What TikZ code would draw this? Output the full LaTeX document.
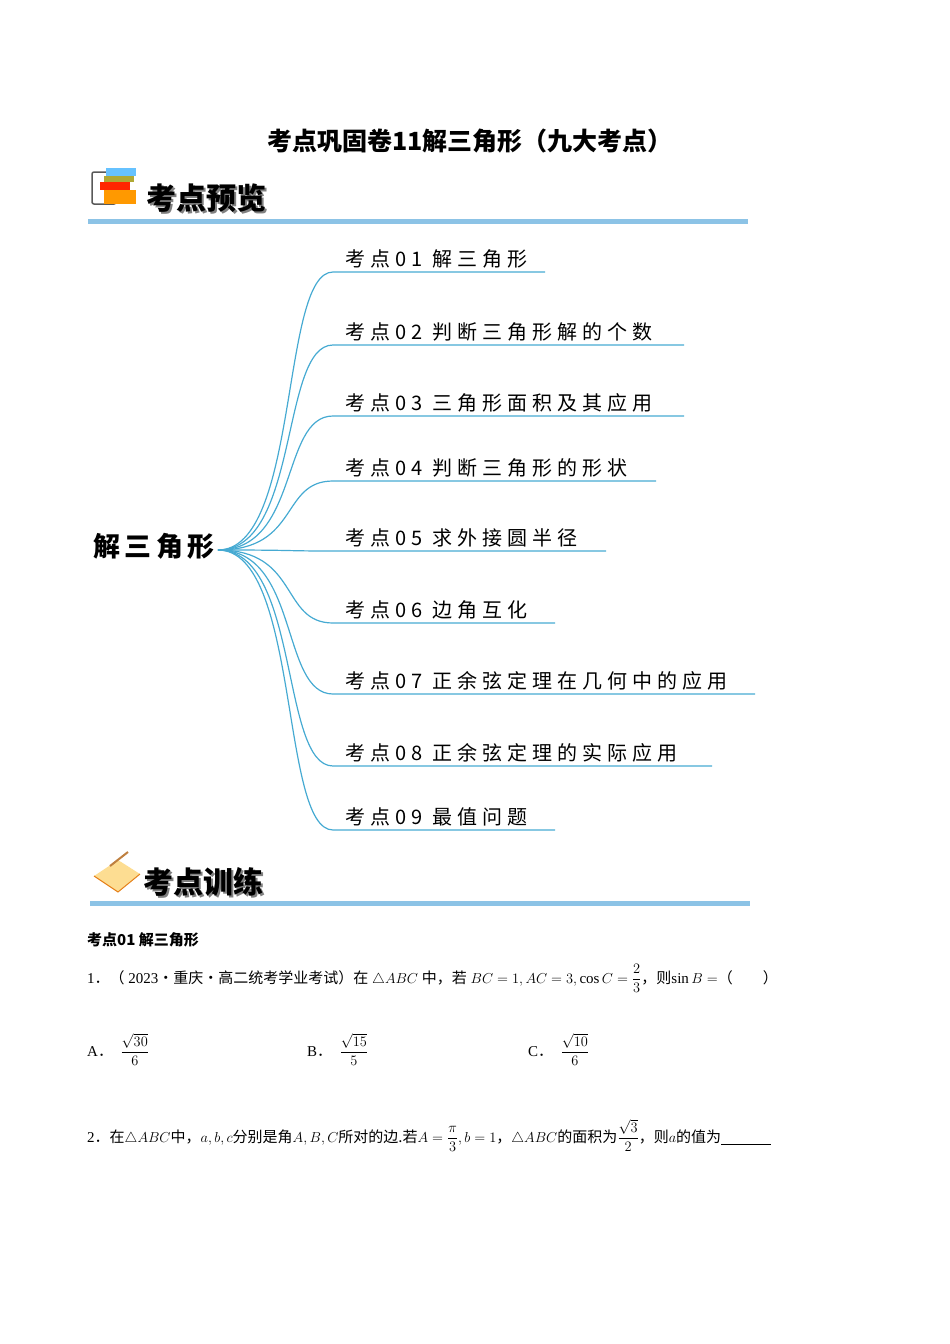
\documentclass[tikz,border=0pt]{standalone}
\usepackage{amsmath}
\usepackage{fontspec}
\newfontfamily\cjk{Noto Sans CJK SC}
\newfontfamily\cjkls[LetterSpace=25]{Noto Sans CJK SC}
\setmainfont{Liberation Serif}
\definecolor{branch}{RGB}{70,170,210}
\definecolor{bar}{RGB}{140,195,230}
\begin{document}
\begin{tikzpicture}[x=1pt,y=-1pt,
  topic/.style={anchor=base west,font=\cjkls\fontsize{20}{22}\selectfont,inner sep=0},
  br/.style={draw=branch,line width=1.2pt},
  hdr/.style={anchor=west,font=\cjk\bfseries\fontsize{30}{32}\selectfont,inner sep=0},
  body/.style={anchor=base west,font=\fontsize{15}{17}\selectfont,inner sep=0}]
\useasboundingbox (0,0) rectangle (950,1344);
\node[anchor=base,font=\cjk\bfseries\fontsize{25}{27}\selectfont] (title) at (470,150) {考点巩固卷11解三角形（九大考点）};
% header 1
\fill[bar] (88,219) rectangle (748,224);
\draw[gray!70!black,line width=1.5pt,rounded corners=2pt] (92,172) rectangle (116,204);
\fill[orange!80!yellow] (104,190) rectangle (136,204);
\fill[red!70!orange] (100,182) rectangle (130,190);
\fill[olive!70] (104,176) rectangle (134,182);
\fill[blue!40!cyan!60] (106,168) rectangle (136,176);
\node[hdr,text=gray] (h1s) at (148,200) {考点预览};
\node[hdr] (h1) at (146,198) {考点预览};
% header 2
\fill[bar] (90,901) rectangle (750,906);
\fill[yellow!40!orange!40] (94,876) -- (118,860) -- (140,874) -- (118,892) -- cycle;
\draw[orange!60!brown,line width=1pt] (94,876) -- (118,892) -- (140,874);
\draw[brown,line width=2pt] (110,866) -- (128,852);
\node[hdr,text=gray] (h2s) at (145,884) {考点训练};
\node[hdr] (h2) at (143,882) {考点训练};
% root
\node[anchor=west,font=\cjk\bfseries\fontsize{27}{29}\selectfont,inner sep=0] (root) at (93,546) {解\,三\,角\,形};
\coordinate (r) at (218,550);
\foreach \y/\e/\t [count=\i] in {
 272/545/{考点01\enspace 解三角形},
 345/684/{考点02\enspace 判断三角形解的个数},
 416/684/{考点03\enspace 三角形面积及其应用},
 481/656/{考点04\enspace 判断三角形的形状},
 551/606/{考点05\enspace 求外接圆半径},
 623/555/{考点06\enspace 边角互化},
 694/755/{考点07\enspace 正余弦定理在几何中的应用},
 766/712/{考点08\enspace 正余弦定理的实际应用},
 830/555/{考点09\enspace 最值问题}}{
 \coordinate (s\i) at (333,\y);
 \coordinate (e\i) at (\e,\y);
 \draw[br] (r) .. controls (300,550) and (280,\y) .. (s\i) -- (e\i);
 \node[topic] (t\i) at (345,\y-6) {\t};
}
% questions
\node[anchor=base west,font=\cjk\bfseries\fontsize{15}{17}\selectfont,inner sep=0] (k1) at (87,945) {考点01 解三角形};
\node[body] (q1) at (87,983) {1{\cjk ．（} 2023{\cjk ·重庆·高二统考学业考试）在} $\triangle ABC$ {\cjk 中，若} $BC=1, AC=3, \cos C=\dfrac{2}{3}${\cjk ，则}$\sin B=${\cjk （\qquad ）}};
\node[body] (a) at (87,1056) {A{\cjk ．}\ \ $\dfrac{\sqrt{30}}{6}$};
\node[body] (b) at (307,1056) {B{\cjk ．}\ \ $\dfrac{\sqrt{15}}{5}$};
\node[body] (c) at (528,1056) {C{\cjk ．}\ \ $\dfrac{\sqrt{10}}{6}$};
\node[body] (q2) at (87,1142) {2{\cjk ．在}$\triangle ABC${\cjk 中，}$a,b,c${\cjk 分别是角}$A,B,C${\cjk 所对的边.若}$A=\dfrac{\pi}{3},b=1${\cjk ，}$\triangle ABC${\cjk 的面积为}$\dfrac{\sqrt3}{2}${\cjk ，则}$a${\cjk 的值为}\rule[-2pt]{50pt}{0.5pt}};
\end{tikzpicture}
\end{document}
